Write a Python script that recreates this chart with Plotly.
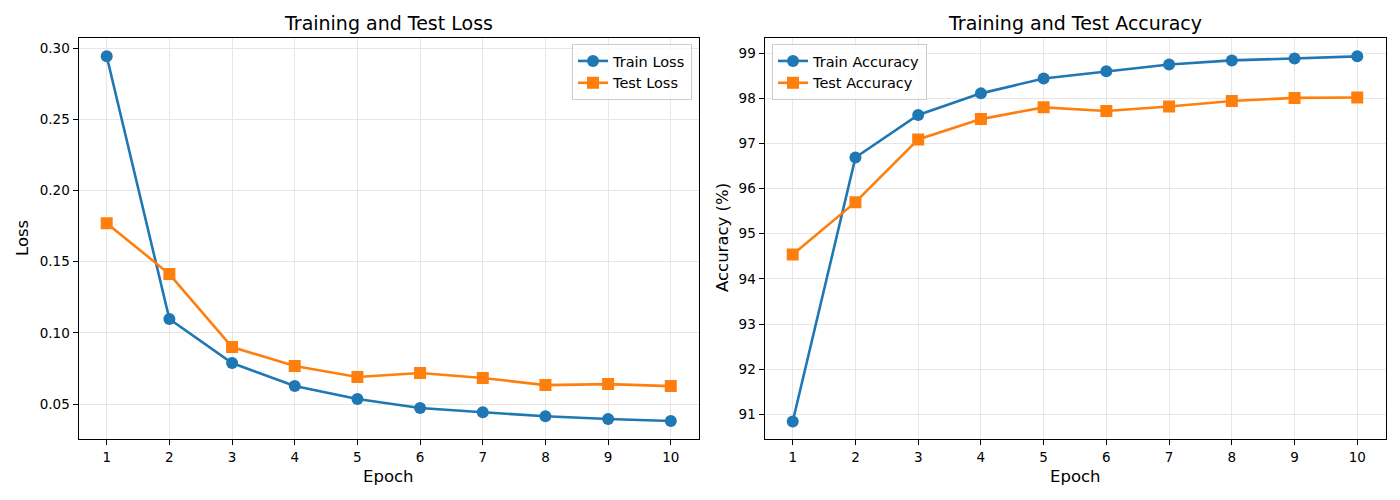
import plotly.graph_objects as go

epochs = [1, 2, 3, 4, 5, 6, 7, 8, 9, 10]
train_loss = [0.2944, 0.1097, 0.0788, 0.0627, 0.0535, 0.0472, 0.0442, 0.0414, 0.0395, 0.0381]
test_loss = [0.1771, 0.1413, 0.0900, 0.0767, 0.0690, 0.0718, 0.0683, 0.0633, 0.0640, 0.0626]
train_acc = [90.84, 96.69, 97.63, 98.11, 98.44, 98.60, 98.75, 98.84, 98.88, 98.93]
test_acc = [94.54, 95.70, 97.09, 97.54, 97.80, 97.72, 97.82, 97.94, 98.01, 98.02]

BLUE = "#1f77b4"
ORANGE = "#ff7f0e"
FONT = "DejaVu Sans"
W, H = 1400, 500

fig = go.Figure()

def add(x, y, name, color, symbol, xa, ya, legend):
    fig.add_trace(go.Scatter(
        x=x, y=y, name=name, mode="lines+markers",
        line=dict(color=color, width=2.6),
        marker=dict(color=color, symbol=symbol, size=12, line=dict(width=0)),
        xaxis=xa, yaxis=ya, legend=legend))

add(epochs, train_loss, "Train Loss", BLUE, "circle", "x", "y", "legend")
add(epochs, test_loss, "Test Loss", ORANGE, "square", "x", "y", "legend")
add(epochs, train_acc, "Train Accuracy", BLUE, "circle", "x2", "y2", "legend2")
add(epochs, test_acc, "Test Accuracy", ORANGE, "square", "x2", "y2", "legend2")

ydom = [1 - 439.3 / H, 1 - 38.3 / H]
axis_common = dict(
    showline=True, linecolor="black", linewidth=1, mirror=True,
    ticks="outside", ticklen=5, tickwidth=1, tickcolor="black",
    showgrid=True, gridcolor="#e6e6e6", gridwidth=1,
    zeroline=False, tickfont=dict(family=FONT, size=13.5, color="black"),
)

fig.update_layout(
    width=W, height=H,
    margin=dict(l=0, r=0, t=0, b=0),
    paper_bgcolor="white", plot_bgcolor="white",
    font=dict(family=FONT, color="black"),
    xaxis=dict(domain=[78.5 / W, 699 / W], range=[0.55, 10.45],
               tickvals=epochs, anchor="y", **axis_common),
    yaxis=dict(domain=ydom, range=[0.0252, 0.307],
               tickvals=[0.05, 0.10, 0.15, 0.20, 0.25, 0.30],
               ticktext=["0.05", "0.10", "0.15", "0.20", "0.25", "0.30"],
               anchor="x", **axis_common),
    xaxis2=dict(domain=[764.5 / W, 1385.5 / W], range=[0.55, 10.45],
                tickvals=epochs, anchor="y2", **axis_common),
    yaxis2=dict(domain=ydom, range=[90.446, 99.33],
                tickvals=[91, 92, 93, 94, 95, 96, 97, 98, 99],
                anchor="x2", **axis_common),
    legend=dict(x=692 / W, y=1 - 44 / H, xanchor="right", yanchor="top",
                bgcolor="rgba(255,255,255,0.8)", bordercolor="#cccccc", borderwidth=1,
                font=dict(family=FONT, size=14.5), tracegroupgap=0),
    legend2=dict(x=772 / W, y=1 - 44 / H, xanchor="left", yanchor="top",
                 bgcolor="rgba(255,255,255,0.8)", bordercolor="#cccccc", borderwidth=1,
                 font=dict(family=FONT, size=14.5), tracegroupgap=0),
    showlegend=True,
)

ann = []
def text(x, y, s, size, angle=0):
    ann.append(dict(x=x / W, y=1 - y / H, xref="paper", yref="paper", text=s,
                    showarrow=False, textangle=angle, xanchor="center", yanchor="middle",
                    font=dict(family=FONT, size=size, color="black")))

text(388.5, 23, "Training and Test Loss", 19)
text(1075, 23, "Training and Test Accuracy", 19)
text(388.5, 476, "Epoch", 16.5)
text(1075, 476, "Epoch", 16.5)
text(22, 238, "Loss", 16.5, -90)
text(722, 238, "Accuracy (%)", 16.5, -90)
fig.update_layout(annotations=ann)

fig.write_html("out.html")
